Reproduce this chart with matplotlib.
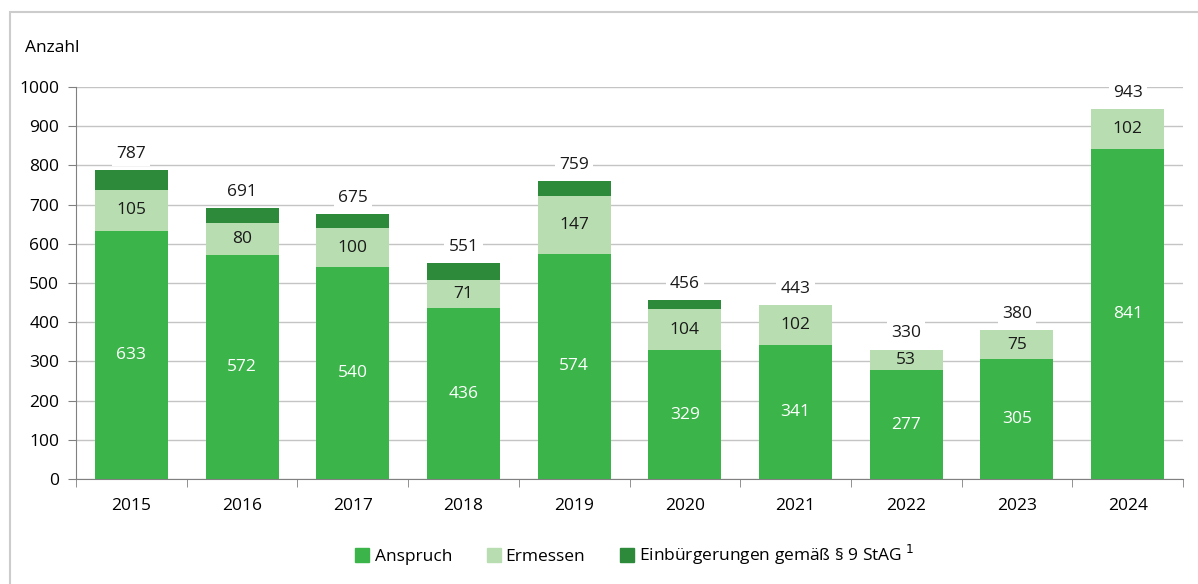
import matplotlib
matplotlib.use("Agg")
from matplotlib import pyplot as plt
from matplotlib.patches import Rectangle, Patch
import numpy as np

plt.rcParams['font.family'] = ['Open Sans', 'DejaVu Sans']

years = ['2015', '2016', '2017', '2018', '2019', '2020', '2021', '2022', '2023', '2024']
anspruch = [633, 572, 540, 436, 574, 329, 341, 277, 305, 841]
ermessen = [105, 80, 100, 71, 147, 104, 102, 53, 75, 102]
totals = [787, 691, 675, 551, 759, 456, 443, 330, 380, 943]
# remaining part of each total: naturalisations under section 9 StAG
stag9 = [t - a - e for t, a, e in zip(totals, anspruch, ermessen)]

c_ansp = '#3BB54A'
c_erm = '#B7DDB0'
c_stag = '#2D8A3A'
fs = 12.5

fig = plt.figure(figsize=(11.98, 5.84), dpi=100)
ax = fig.add_axes([76/1198, 105/584, (1183-76)/1198, (479-87)/584])

x = np.arange(len(years))
w = 0.66
ax.bar(x, anspruch, w, color=c_ansp, zorder=2)
ax.bar(x, ermessen, w, bottom=anspruch, color=c_erm, zorder=2)
ax.bar(x, stag9, w, bottom=np.add(anspruch, ermessen), color=c_stag, zorder=2)

for i in range(len(years)):
    ax.text(x[i], anspruch[i] / 2, str(anspruch[i]), ha='center', va='center',
            color='white', fontsize=fs, zorder=3)
    ax.text(x[i], anspruch[i] + ermessen[i] / 2, str(ermessen[i]), ha='center',
            va='center', color='#1a1a1a', fontsize=fs, zorder=3)
    ax.text(x[i], totals[i] + 42, str(totals[i]), ha='center', va='center',
            color='#1a1a1a', fontsize=fs, zorder=3,
            bbox=dict(facecolor='white', edgecolor='none', pad=3))

ax.set_xlim(-0.5, len(years) - 0.5)
ax.set_ylim(0, 1000)
ax.set_yticks(np.arange(0, 1001, 100))
ax.yaxis.grid(True, color='#C4C4C4', linewidth=1)
ax.set_axisbelow(True)
ax.set_xticks(x)
ax.set_xticklabels(years, fontsize=fs)
ax.set_xticks(np.arange(-0.5, len(years)), minor=True)
ax.tick_params(axis='x', which='major', length=0, pad=14)
ax.tick_params(axis='x', which='minor', length=6, color='#808080')
ax.tick_params(axis='y', length=6, color='#808080', labelsize=fs, pad=6)
for s in ['top', 'right']:
    ax.spines[s].set_visible(False)
for s in ['left', 'bottom']:
    ax.spines[s].set_color('#808080')

fig.text(25/1198, 1 - 48/584, 'Anzahl', fontsize=fs, va='center', ha='left')

handles = [Patch(color=c_ansp), Patch(color=c_erm), Patch(color=c_stag)]
labels = ['Anspruch', 'Ermessen', 'Einbürgerungen gemäß § 9 StAG$^{\\ 1}$']
fig.legend(handles, labels, loc='center', bbox_to_anchor=(0.53, 1 - 555/584),
           ncol=3, frameon=False, fontsize=fs, handlelength=0.8, handleheight=0.8,
           handletextpad=0.3, columnspacing=2.0)

fig.patches.append(Rectangle((10/1198, -0.01), 1.0, 0.99, transform=fig.transFigure,
                             fill=False, edgecolor='#CCCCCC', linewidth=1.5))

fig.savefig('out.png', dpi=100)
